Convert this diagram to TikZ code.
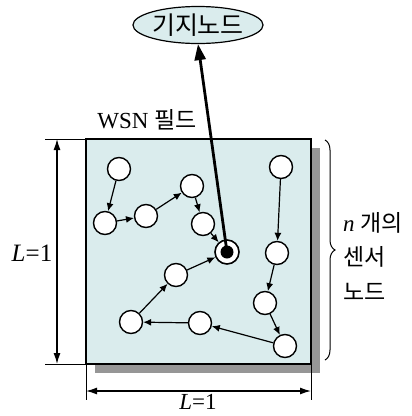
\documentclass[tikz,border=0pt]{standalone}
\usepackage{fontspec}
\setmainfont{Liberation Serif}
\newfontfamily\kr{Noto Sans CJK KR}
\usetikzlibrary{arrows.meta,decorations.pathreplacing,shapes.geometric}
\definecolor{fieldblue}{RGB}{218,236,237}
\definecolor{shadowgray}{RGB}{150,150,150}

\begin{document}
\begin{tikzpicture}[x=1pt,y=-1pt,
    sensor/.style={circle,draw,line width=1.4pt,fill=white,minimum size=23pt,inner sep=0pt},
    hop/.style={-{Latex[length=8pt,width=7pt]},line width=1.2pt},
    dimline/.style={{Latex[length=11pt,width=7pt]}-{Latex[length=11pt,width=7pt]},line width=1.3pt},
    txt/.style={inner sep=0pt,font=\fontsize{23}{23}\selectfont}]
    \useasboundingbox (0,0) rectangle (412,416);

    % 필드 (225 x 225), 그림자는 9만큼 밀림
    \coordinate (F1) at (86,139);
    \coordinate (F2) at (311,364);
    \fill[shadowgray] (95,148) rectangle (320,373);
    \draw[fill=fieldblue,line width=1.2pt] (F1) rectangle (F2);
    \node[txt] (wsn) at (147,120) {WSN {\kr 필드}};

    % 센서 노드
    \node[sensor] (s1) at (119,169) {};
    \node[sensor] (s2) at (105,223) {};
    \node[sensor] (s3) at (146,216) {};
    \node[sensor] (s4) at (192,186) {};
    \node[sensor] (s5) at (203,224) {};
    \node[sensor] (s6) at (281,167) {};
    \node[sensor] (s7) at (277,253) {};
    \node[sensor] (s8) at (176,275) {};
    \node[sensor] (s9) at (131,322) {};
    \node[sensor] (s10) at (200,323) {};
    \node[sensor] (s11) at (265,303) {};
    \node[sensor] (s12) at (285,346) {};

    % 싱크
    \node[sensor,line width=1.6pt,minimum size=24pt] (sink) at (227,252) {};
    \fill (sink.center) circle (6.5);

    % 경로
    \draw[hop] (s1) -- (s2);
    \draw[hop] (s2) -- (s3);
    \draw[hop] (s3) -- (s4);
    \draw[hop] (s4) -- (s5);
    \draw[hop] (s5) -- (sink);
    \draw[hop] (s6) -- (s7);
    \draw[hop] (s7) -- (s11);
    \draw[hop] (s11) -- (s12);
    \draw[hop] (s12) -- (s10);
    \draw[hop] (s10) -- (s9);
    \draw[hop] (s9) -- (s8);
    \draw[hop] (s8) -- (sink);

    % 기지노드
    \node[ellipse,draw,fill=fieldblue,line width=1.2pt,minimum width=108pt,minimum height=37pt,
        inner sep=0pt,font=\kr\fontsize{25}{25}\selectfont] (bs) at (198,25) {기지노드};
    \draw[line width=2.8pt,-{Triangle[length=16pt,width=11pt]}] (sink.center) -- (bs.south);

    % 치수선
    \draw[line width=1pt] (45,139) -- (F1);
    \draw[line width=1pt] (45,364) -- (86,364);
    \draw[dimline] (57,139) -- (57,364);
    \node[txt,font=\fontsize{25}{25}\selectfont] (lv) at (32,253) {\textit{L}=1};
    \draw[line width=1pt] (86,364) -- (86,400);
    \draw[line width=1pt] (F2) -- (311,400);
    \draw[dimline] (86,391) -- (311,391);
    \node[txt,font=\fontsize{23}{23}\selectfont,anchor=base] (lh) at (198,409) {\textit{L}=1};

    % 중괄호
    \draw[line width=1pt,decorate,decoration={brace,amplitude=10pt}] (325,140) -- (325,360);
    \node[txt,anchor=west] (cnt1) at (343,223) {\textit{n} {\kr 개의}};
    \node[txt,anchor=west] (cnt2) at (343,257) {\kr 센서};
    \node[txt,anchor=west] (cnt3) at (343,292) {\kr 노드};
\end{tikzpicture}
\end{document}
